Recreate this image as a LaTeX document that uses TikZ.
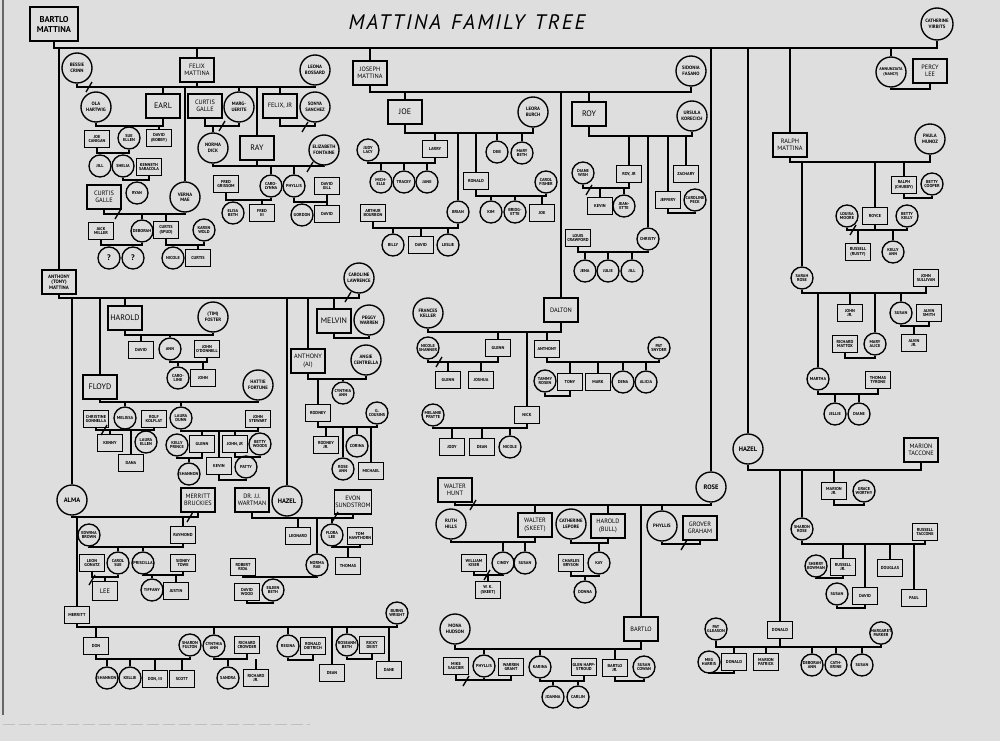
\documentclass[tikz,border=0pt]{standalone}
\usepackage{fontspec}
\setmainfont{PT Sans}
\definecolor{bgc}{RGB}{222,222,222}
\tikzset{
 ln/.style={line width=1.35pt, black},
 pb/.style={draw, line width=1.35pt, rectangle, minimum width=25pt, minimum height=17pt, inner sep=0.6pt, align=center, font=\bfseries\fontsize{4.3}{4.8}\selectfont},
 pbm/.style={pb, minimum width=34pt, minimum height=24pt, font=\fontsize{6.3}{7.2}\selectfont},
 pbig/.style={pbm, font=\fontsize{8}{8}\selectfont},
 pc/.style={draw, line width=1.35pt, circle, minimum size=22pt, inner sep=0pt, align=center, font=\bfseries\fontsize{4.3}{4.8}\selectfont},
 pcl/.style={pc, minimum size=30pt, font=\bfseries\fontsize{4.8}{5.4}\selectfont},
}
\newcommand\fbx[4]{\node[pb] (#1) at (#2,#3) {#4};}
\newcommand\fmx[4]{\node[pbm] (#1) at (#2,#3) {#4};}
\newcommand\fgx[4]{\node[pbig] (#1) at (#2,#3) {#4};}
\newcommand\fcs[4]{\node[pc] (#1) at (#2,#3) {#4};}
\newcommand\fcl[4]{\node[pcl] (#1) at (#2,#3) {#4};}
\newcommand\famrail[3]{\draw[ln] (#2.south) -- (#2.south |- 0,#1) -- (#3.south |- 0,#1) -- (#3.south);}
\newcommand\kidline[2]{\draw[ln] (#2.north) -- (#2.north |- 0,#1);}
\newcommand\downline[2]{\draw[ln] (#2.south) -- (#2.south |- 0,#1);}
\newcommand\divmark[2]{\draw[ln] (#1-3,#2+5) -- (#1+3,#2-5);}
\begin{document}
\begin{tikzpicture}[x=1pt,y=-1pt]
\useasboundingbox (0,0) rectangle (1000,741);
\fill[bgc] (0,0) rectangle (1000,741);
\draw[line width=1.2pt, black!60] (3,0) -- (3,715);
\draw[line width=0.8pt, black!25, dash pattern=on 12pt off 4pt] (3,724) -- (310,724);

\node[font=\fontsize{21}{21}\selectfont\itshape\addfontfeature{LetterSpace=10}] (title) at (467,22) {MATTINA\hspace{10pt}FAMILY\hspace{10pt}TREE};

% ---------- top generation
\node[pb, minimum width=48pt, minimum height=34pt, font=\bfseries\fontsize{8.5}{10}\selectfont] (bartlo) at (54,24) {BARTLO\\MATTINA};
\node[pc, minimum size=32pt, font=\bfseries\fontsize{4.8}{5.6}\selectfont] (cath) at (937,24) {CATHERINE\\VIRBITS};
\famrail{48}{bartlo}{cath}

% ---------- Felix
\fmx{felix}{197}{70}{FELIX\\MATTINA}
\kidline{48}{felix}
\fcl{bessie}{77}{68}{BESSIE\\CRINN}
\fcl{leona}{315}{70}{LEONA\\BOSSARD}
\famrail{87}{bessie}{leona}
\downline{87}{felix}
\divmark{89}{87}

\fcl{ola}{96}{107}{OLA\\HARTWIG}
\fgx{earl}{163}{106}{EARL}
\kidline{87}{earl}
\famrail{126}{ola}{earl}
\fbx{joec}{97}{139}{JOE\\CANIGAN}
\fcs{sue}{129}{138}{SUE\\ELLEN}
\fbx{davidb}{159}{138}{DAVID\\(BOBBY)}
\kidline{126}{sue}
\kidline{126}{davidb}
\famrail{153}{joec}{sue}
\fcs{jill}{100}{166}{JILL}
\fcs{shelia}{123}{166}{SHELIA}
\kidline{153}{jill}
\kidline{153}{shelia}
\fbx{kenneth}{149}{167}{KENNETH\\SARACOLA}
\famrail{180}{shelia}{kenneth}
\fcs{ryan}{137}{193}{RYAN}
\kidline{180}{ryan}

\fcl{vernamae}{185}{197}{VERNA\\MAE}
\kidline{87}{vernamae}
\fmx{curtisga}{104}{197}{CURTIS\\GALLE}
\famrail{214}{curtisga}{vernamae}
\divmark{118}{214}
\fbx{jack}{101}{231}{JACK\\MILLER}
\fcs{deborah}{142}{231}{DEBORAH}
\fbx{spud}{166}{230}{CURTIS\\(SPUD)}
\fcs{karen}{204}{230}{KAREN\\WOLD}
\kidline{214}{deborah}
\kidline{214}{spud}
\famrail{245}{jack}{deborah}
\fcs{qa}{109}{258}{\fontsize{8}{8}\selectfont ?}
\fcs{qb}{133}{258}{\fontsize{8}{8}\selectfont ?}
\kidline{245}{qa}
\kidline{245}{qb}
\famrail{245}{spud}{karen}
\fcs{nicole}{173}{258}{NICOLE}
\fbx{curtisb}{198}{258}{CURTIS}
\kidline{245}{nicole}
\kidline{245}{curtisb}

\fmx{curtisgb}{205}{106}{CURTIS\\GALLE}
\fcl{marg}{239}{107}{MARG-\\UERITE}
\kidline{87}{marg}
\famrail{126}{curtisgb}{marg}
\divmark{222}{126}
\fcl{norma}{213}{148}{NORMA\\DICK}
\kidline{126}{norma}
\fgx{ray}{257}{148}{RAY}
\kidline{87}{ray}
\fcl{eliz}{324}{150}{ELIZABETH\\FONTAINE}
\famrail{166}{norma}{eliz}
\downline{166}{ray}
\divmark{310}{167}
\fbx{fredg}{226}{184}{FRED\\GRISSOM}
\fcs{carol}{271}{186}{CARO-\\LYNNA}
\fcs{phyllisa}{294}{186}{PHYLLIS}
\fbx{davidgill}{327}{186}{DAVID\\GILL}
\kidline{166}{carol}
\kidline{166}{phyllisa}
\famrail{200}{fredg}{carol}
\fcs{elisa}{233}{213}{ELISA\\BETH}
\fbx{fredc}{262}{213}{FRED\\III}
\kidline{200}{elisa}
\kidline{200}{fredc}
\famrail{202}{phyllisa}{davidgill}
\fcs{gordon}{302}{215}{GORDON}
\fbx{davidc}{327}{214}{DAVID}
\kidline{202}{gordon}
\kidline{202}{davidc}

\fmx{felixjr}{280}{106}{FELIX, JR}
\kidline{87}{felixjr}
\fcl{sonya}{315}{107}{SONYA\\SANCHEZ}
\famrail{126}{felixjr}{sonya}
\divmark{305}{127}

% ---------- Joseph
\fmx{joseph}{370}{73}{JOSEPH\\MATTINA}
\kidline{48}{joseph}
\fcl{sidonia}{691}{71}{SIDONIA\\FASANO}
\famrail{92}{joseph}{sidonia}
\fgx{joe}{405}{112}{JOE}
\kidline{92}{joe}
\fcl{leora}{533}{112}{LEORA\\BURCH}
\famrail{133}{joe}{leora}
\fbx{larry}{435}{149}{LARRY}
\kidline{133}{larry}
\fcs{judy}{368}{150}{JUDY\\LACY}
\famrail{163}{judy}{larry}
\fcs{michelle}{381}{182}{MICH-\\ELLE}
\fcs{tracey}{404}{182}{TRACEY}
\fcs{jane}{427}{182}{JANE}
\kidline{163}{michelle}
\kidline{163}{tracey}
\kidline{163}{jane}
\fcs{brian}{458}{212}{BRIAN}
\kidline{133}{brian}
\fbx{arthur}{373}{213}{ARTHUR\\BOURBON}
\famrail{228}{arthur}{brian}
\fcs{billy}{393}{245}{BILLY}
\fbx{davidj}{421}{245}{DAVID}
\fcs{leslie}{448}{245}{LESLIE}
\kidline{228}{billy}
\kidline{228}{davidj}
\kidline{228}{leslie}
\fbx{ronald}{476}{181}{RONALD}
\kidline{133}{ronald}
\fcs{carolf}{546}{182}{CAROL\\FISHER}
\famrail{196}{ronald}{carolf}
\fcs{kim}{491}{212}{KIM}
\fcs{bridg}{515}{212}{BRIDG-\\ETTE}
\fbx{joej}{542}{213}{JOE}
\kidline{196}{kim}
\kidline{196}{bridg}
\kidline{196}{joej}
\fcs{deb}{497}{152}{DEB}
\kidline{133}{deb}
\fcs{marybeth}{522}{153}{MARY\\BETH}
\kidline{133}{marybeth}

\fgx{roy}{589}{114}{ROY}
\kidline{92}{roy}
\fcl{ursula}{692}{116}{URSULA\\KORECICH}
\famrail{136}{roy}{ursula}
\fbx{royjr}{629}{174}{ROY, JR}
\kidline{136}{royjr}
\fcs{diane}{583}{173}{DIANE\\WISH}
\famrail{188}{diane}{royjr}
\divmark{589}{190}
\fbx{kevina}{600}{206}{KEVIN}
\fcs{jeanette}{624}{206}{JEAN-\\ETTE}
\kidline{188}{kevina}
\kidline{188}{jeanette}
\fcs{christy}{648}{239}{CHRISTY}
\kidline{136}{christy}
\fbx{jeffery}{668}{200}{JEFFERY}
\kidline{136}{jeffery}
\fcs{carolinep}{695}{200}{CAROLINE\\PECK}
\famrail{213}{jeffery}{carolinep}
\fbx{zachary}{686}{174}{ZACHARY}
\kidline{136}{zachary}
\fbx{louis}{578}{238}{LOUIS\\CRAWFORD}
\famrail{252}{louis}{christy}
\fcs{jena}{585}{271}{JENA}
\fcs{julie}{608}{271}{JULIE}
\fcs{jillb}{632}{271}{JILL}
\kidline{252}{jena}
\kidline{252}{julie}
\kidline{252}{jillb}

\fmx{dalton}{561}{310}{DALTON}
\kidline{92}{dalton}
\fcl{frances}{428}{313}{FRANCES\\KELLER}
\famrail{332}{frances}{dalton}
\fbx{glenna}{498}{348}{GLENN}
\kidline{332}{glenna}
\fcs{nicoles}{428}{348}{NICOLE\\SHANNER}
\famrail{362}{nicoles}{glenna}
\divmark{439}{362}
\fbx{glennb}{448}{380}{GLENN}
\fbx{joshua}{481}{380}{JOSHUA}
\kidline{362}{glennb}
\kidline{362}{joshua}
\fbx{anthonyb}{547}{349}{ANTHONY}
\kidline{332}{anthonyb}
\fcs{pats}{659}{348}{PAT\\SNYDER}
\famrail{362}{anthonyb}{pats}
\fbx{tony}{570}{382}{TONY}
\fbx{mark}{598}{382}{MARK}
\fcs{dena}{623}{382}{DENA}
\fcs{alicia}{646}{382}{ALICIA}
\kidline{362}{tony}
\kidline{362}{mark}
\kidline{362}{dena}
\kidline{362}{alicia}
\fcs{tammy}{545}{381}{TAMMY\\ROSEN}
\famrail{396}{tammy}{tony}
\fbx{nick}{527}{415}{NICK}
\kidline{332}{nick}
\fcs{melanie}{433}{415}{MELANIE\\PRATTE}
\famrail{428}{melanie}{nick}
\fbx{jody}{452}{447}{JODY}
\fbx{deana}{482}{447}{DEAN}
\fcs{nicolec}{510}{447}{NICOLE}
\kidline{428}{jody}
\kidline{428}{deana}
\kidline{428}{nicolec}

% ---------- Ralph
\fmx{ralph}{790}{145}{RALPH\\MATTINA}
\kidline{48}{ralph}
\fcl{paula}{930}{139}{PAULA\\MUNOZ}
\famrail{162}{ralph}{paula}
\node[pcl, font=\bfseries\fontsize{4.1}{4.8}\selectfont] (nancy) at (891,72) {ANNUNZIATA\\(NANCY)};
\kidline{48}{nancy}
\fmx{percy}{930}{71}{PERCY\\LEE}
\famrail{89}{nancy}{percy}
\fbx{chubby}{904}{185}{RALPH\\(CHUBBY)}
\kidline{162}{chubby}
\fcs{bettyc}{932}{184}{BETTY\\COOPER}
\famrail{198}{chubby}{bettyc}
\fbx{royce}{875}{216}{ROYCE}
\kidline{162}{royce}
\fcs{louisa}{847}{216}{LOUISA\\MOORE}
\fcs{bettyk}{907}{216}{BETTY\\KELLY}
\famrail{230}{louisa}{bettyk}
\downline{230}{royce}
\divmark{853}{230}
\fbx{russella}{858}{252}{RUSSELL\\(RUSTY)}
\fcs{kellyann}{893}{252}{KELLY\\ANN}
\kidline{230}{russella}
\kidline{230}{kellyann}
\fcs{sarah}{802}{278}{SARAH\\ROSE}
\kidline{162}{sarah}
\fbx{johns}{926}{278}{JOHN\\SULLIVAN}
\famrail{293}{sarah}{johns}
\fbx{johnjr}{850}{313}{JOHN\\JR.}
\kidline{293}{johnjr}
\fcs{maryalice}{875}{344}{MARY\\ALICE}
\kidline{293}{maryalice}
\fbx{richardm}{845}{344}{RICHARD\\MATTOX}
\famrail{358}{richardm}{maryalice}
\fcs{susana}{901}{313}{SUSAN}
\kidline{293}{susana}
\fbx{alvin}{929}{313}{ALVIN\\SMITH}
\famrail{326}{susana}{alvin}
\fbx{alvinjr}{914}{343}{ALVIN\\JR.}
\kidline{326}{alvinjr}
\fcs{martha}{818}{379}{MARTHA}
\kidline{293}{martha}
\fbx{thomast}{878}{380}{THOMAS\\TYRONE}
\famrail{394}{martha}{thomast}
\fcs{jellie}{835}{414}{JELLIE}
\fcs{dianeb}{859}{414}{DIANE}
\kidline{394}{jellie}
\kidline{394}{dianeb}

% ---------- Hazel (right)
\fcl{hazela}{748}{449}{\fontsize{6.5}{6.5}\selectfont HAZEL}
\kidline{48}{hazela}
\fmx{marion}{921}{450}{MARION\\TACCONE}
\famrail{470}{hazela}{marion}
\fbx{donalda}{780}{630}{DONALD}
\kidline{470}{donalda}
\fcs{sharonr}{802}{529}{SHARON\\ROSE}
\kidline{470}{sharonr}
\fbx{russellt}{925}{532}{RUSSELL\\TACCONE}
\famrail{544}{sharonr}{russellt}
\fbx{russelljr}{843}{567}{RUSSELL\\JR.}
\kidline{544}{russelljr}
\fcs{sherry}{816}{566}{SHERRY\\BOWMAN}
\famrail{578}{sherry}{russelljr}
\fbx{davidd}{865}{596}{DAVID}
\kidline{544}{davidd}
\fcs{susanb}{837}{594}{SUSAN}
\famrail{608}{susanb}{davidd}
\fbx{douglas}{890}{568}{DOUGLAS}
\kidline{544}{douglas}
\fbx{paul}{914}{598}{PAUL}
\kidline{544}{paul}
\fbx{marionjr}{834}{491}{MARION\\JR.}
\kidline{470}{marionjr}
\fcs{grace}{864}{491}{GRACE\\WORTHY}
\famrail{505}{marionjr}{grace}
\fcs{patg}{716}{629}{PAT\\GLEASON}
\fcs{margp}{881}{633}{MARGARET\\PARKER}
\famrail{647}{patg}{margp}
\downline{647}{donalda}
\fbx{donaldb}{734}{662}{DONALD}
\kidline{647}{donaldb}
\fcs{meg}{709}{662}{MEG\\HARRIS}
\famrail{673}{meg}{donaldb}
\fbx{marionp}{766}{662}{MARION\\PATRICK}
\kidline{647}{marionp}
\fcs{debann}{812}{665}{DEBORAH\\ANN}
\kidline{647}{debann}
\fcs{cathe}{836}{665}{CATH-\\ERINE}
\kidline{647}{cathe}
\fcs{susanc}{862}{665}{SUSAN}
\kidline{647}{susanc}

% ---------- Rose
\fcl{rose}{711}{487}{\fontsize{6.5}{6.5}\selectfont ROSE}
\kidline{48}{rose}
\fmx{walterh}{455}{490}{WALTER\\HUNT}
\famrail{505}{walterh}{rose}
\divmark{473}{505}
\fcl{ruth}{451}{524}{RUTH\\HILLS}
\fmx{walters}{535}{525}{WALTER\\(SKEET)}
\kidline{505}{walters}
\famrail{542}{ruth}{walters}
\fbx{william}{474}{563}{WILLIAM\\KISER}
\fcs{cindy}{503}{563}{CINDY}
\fcs{susand}{525}{563}{SUSAN}
\kidline{542}{cindy}
\kidline{542}{susand}
\famrail{575}{william}{cindy}
\divmark{487}{575}
\fbx{wk}{488}{590}{W. K.\\(SKEET)}
\kidline{575}{wk}
\fcl{catherinel}{571}{524}{CATHERINE\\LEPORE}
\fmx{haroldb}{608}{526}{HAROLD\\(BULL)}
\kidline{505}{haroldb}
\famrail{543}{catherinel}{haroldb}
\fcs{kay}{599}{563}{KAY}
\kidline{543}{kay}
\fbx{charles}{571}{563}{CHARLES\\BRYSON}
\famrail{576}{charles}{kay}
\fcs{donna}{585}{592}{DONNA}
\kidline{576}{donna}
\fcl{phyllisb}{662}{526}{PHYLLIS}
\kidline{505}{phyllisb}
\fmx{grover}{700}{528}{GROVER\\GRAHAM}
\famrail{544}{phyllisb}{grover}
\divmark{684}{545}
\fmx{bartlob}{641}{629}{BARTLO}
\kidline{505}{bartlob}
\fcl{mona}{455}{629}{MONA\\HUDSON}
\famrail{649}{mona}{bartlob}
\fcs{phyllisc}{484}{666}{PHYLLIS}
\kidline{649}{phyllisc}
\fbx{mike}{456}{666}{MIKE\\SAUCIER}
\fbx{warren}{511}{667}{WARREN\\GRANT}
\famrail{680}{mike}{warren}
\downline{680}{phyllisc}
\divmark{466}{681}
\fcs{karina}{540}{667}{KARINA}
\kidline{649}{karina}
\fbx{glenh}{584}{667}{GLEN HAPP-\\STROUD}
\famrail{681}{karina}{glenh}
\fcs{joanna}{553}{697}{JOANNA}
\fcs{carlin}{578}{697}{CARLIN}
\kidline{681}{joanna}
\kidline{681}{carlin}
\fbx{bartlojr}{615}{668}{BARTLO\\JR.}
\kidline{649}{bartlojr}
\fcs{susancow}{644}{667}{SUSAN\\COWAN}
\famrail{681}{bartlojr}{susancow}

% ---------- Anthony (Tony)
\node[pbm, font=\bfseries\fontsize{4.9}{5.5}\selectfont] (tonym) at (59,282) {ANTHONY\\(TONY)\\MATTINA};
\kidline{48}{tonym}
\fcl{caroline}{359}{278}{CAROLINE\\LAWRENCE}
\famrail{298}{tonym}{caroline}
\divmark{348}{297}
\fgx{harold}{125}{318}{HAROLD}
\kidline{298}{harold}
\fcl{tim}{213}{317}{(TIM)\\FOSTER}
\famrail{335}{harold}{tim}
\fbx{davide}{141}{350}{DAVID}
\kidline{335}{davide}
\fcs{ann}{170}{349}{ANN}
\kidline{335}{ann}
\fbx{johno}{207}{349}{JOHN\\O'DONNELL}
\famrail{362}{ann}{johno}
\fcs{carolinec}{178}{378}{CARO-\\LINE}
\fbx{johnb}{203}{378}{JOHN}
\kidline{362}{carolinec}
\kidline{362}{johnb}
\fgx{floyd}{100}{387}{FLOYD}
\kidline{298}{floyd}
\fcl{hattie}{258}{385}{HATTIE\\FORTUNE}
\famrail{402}{floyd}{hattie}
\fcs{melissa}{125}{418}{MELISSA}
\kidline{402}{melissa}
\fbx{christine}{96}{419}{CHRISTINE\\GONNELLA}
\fbx{rolf}{154}{419}{ROLF\\KOLFLAT}
\famrail{430}{christine}{rolf}
\downline{430}{melissa}
\divmark{104}{430}
\fbx{kenny}{110}{443}{KENNY}
\fcs{laurae}{146}{442}{LAURA\\ELLEN}
\fbx{dana}{131}{463}{DANA}
\kidline{430}{kenny}
\kidline{430}{laurae}
\kidline{430}{dana}
\fcs{laurad}{181}{418}{LAURA\\DUNN}
\kidline{402}{laurad}
\fbx{johnst}{258}{419}{JOHN\\STEWART}
\famrail{431}{laurad}{johnst}
\fbx{glennc}{202}{444}{GLENN}
\kidline{431}{glennc}
\fcs{kelly}{177}{445}{KELLY\\PRINCE}
\famrail{458}{kelly}{glennc}
\fcs{shannon}{189}{474}{SHANNON}
\kidline{458}{shannon}
\fbx{kevinb}{219}{466}{KEVIN}
\kidline{431}{kevinb}
\fbx{johnjrb}{235}{444}{JOHN, JR}
\kidline{431}{johnjrb}
\fcs{bettyw}{260}{444}{BETTY\\WOODS}
\famrail{457}{johnjrb}{bettyw}
\fcs{patty}{246}{467}{PATTY}
\famrail{480}{kevinb}{patty}

\fgx{melvin}{334}{321}{MELVIN}
\kidline{298}{melvin}
\fcl{peggy}{369}{320}{PEGGY\\WARREN}
\famrail{338}{melvin}{peggy}
\fmx{aj}{308}{361}{ANTHONY\\(AJ)}
\kidline{298}{aj}
\fcl{angie}{366}{360}{ANGIE\\CENTRELLA}
\famrail{379}{aj}{angie}
\fbx{rodney}{318}{413}{RODNEY}
\kidline{379}{rodney}
\fcs{cynthia}{343}{393}{CYNTHIA\\ANN}
\kidline{379}{cynthia}
\fcs{gcous}{377}{413}{G.\\COUSINS}
\famrail{427}{rodney}{gcous}
\fbx{rodneyjr}{326}{445}{RODNEY\\JR.}
\fcs{roseann}{343}{469}{ROSE\\ANN}
\fcs{corina}{357}{446}{CORINA}
\fbx{michael}{371}{471}{MICHAEL}
\kidline{427}{rodneyjr}
\kidline{427}{roseann}
\kidline{427}{corina}
\kidline{427}{michael}

\fcl{hazelb}{287}{501}{\fontsize{6.5}{6.5}\selectfont HAZEL}
\kidline{298}{hazelb}
\fmx{wartman}{252}{500}{DR. J.J.\\WARTMAN}
\fmx{evon}{353}{502}{EVON\\SUNDSTROM}
\famrail{518}{wartman}{evon}
\downline{518}{hazelb}
\divmark{335}{517}
\fbx{leonard}{298}{536}{LEONARD}
\kidline{518}{leonard}
\fcs{normarae}{317}{565}{NORMA\\RAE}
\kidline{518}{normarae}
\fcs{floralee}{332}{535}{FLORA\\LEE}
\kidline{518}{floralee}
\fbx{tomh}{360}{536}{TOM\\HAWTHORN}
\famrail{547}{floralee}{tomh}
\fbx{thomasb}{348}{566}{THOMAS}
\kidline{547}{thomasb}
\fbx{robert}{243}{567}{ROBERT\\RIDA}
\famrail{577}{robert}{normarae}
\fcs{eileen}{273}{590}{EILEEN\\BETH}
\kidline{577}{eileen}
\fbx{davidw}{247}{592}{DAVID\\WOOD}
\famrail{603}{davidw}{eileen}

% ---------- Alma
\fcl{alma}{72}{500}{\fontsize{6.5}{6.5}\selectfont ALMA}
\kidline{298}{alma}
\fmx{merrittb}{198}{500}{MERRITT\\BRUCKIES}
\famrail{517}{alma}{merrittb}
\divmark{190}{517}
\fbx{raymond}{183}{535}{RAYMOND}
\kidline{517}{raymond}
\fcs{edwina}{89}{535}{EDWINA\\BROWN}
\famrail{547}{edwina}{raymond}
\fcs{carolsue}{118}{563}{CAROL\\SUE}
\kidline{547}{carolsue}
\fbx{leon}{92}{563}{LEON\\GONATZ}
\famrail{577}{leon}{carolsue}
\divmark{92}{580}
\node[pb, minimum height=19pt, font=\fontsize{6.5}{6.5}\selectfont] (lee) at (105,591) {LEE};
\kidline{577}{lee}
\fcs{priscilla}{143}{563}{PRISCILLA}
\kidline{547}{priscilla}
\fbx{sidney}{183}{563}{SIDNEY\\TOWE}
\famrail{575}{priscilla}{sidney}
\fcs{tiffany}{152}{590}{TIFFANY}
\fbx{justin}{176}{591}{JUSTIN}
\kidline{575}{tiffany}
\kidline{575}{justin}
\fbx{merritt}{77}{615}{MERRITT}
\kidline{517}{merritt}
\fcs{burns}{397}{613}{BURNS\\WRIGHT}
\famrail{627}{merritt}{burns}
\fbx{don}{96}{646}{DON}
\kidline{627}{don}
\fcs{sharonf}{190}{645}{SHARON\\FULTON}
\famrail{659}{don}{sharonf}
\fcs{shannonb}{107}{678}{SHANNON}
\fcs{kellie}{130}{678}{KELLIE}
\fbx{donc}{155}{679}{DON, III}
\fbx{scott}{182}{679}{SCOTT}
\kidline{659}{shannonb}
\kidline{659}{kellie}
\kidline{659}{donc}
\kidline{659}{scott}
\fcs{cynann}{214}{646}{CYNTHIA\\ANN}
\kidline{627}{cynann}
\fbx{richardc}{247}{645}{RICHARD\\CROWDER}
\famrail{659}{cynann}{richardc}
\fcs{sandra}{228}{678}{SANDRA}
\fbx{richardjr}{256}{678}{RICHARD\\JR.}
\kidline{659}{sandra}
\kidline{659}{richardjr}
\fcs{regina}{288}{646}{REGINA}
\kidline{627}{regina}
\fbx{ronaldd}{313}{646}{RONALD\\DIETRICH}
\famrail{660}{regina}{ronaldd}
\fbx{deanb}{332}{673}{DEAN}
\kidline{627}{deanb}
\fcs{roseb}{347}{645}{ROSEANN\\BETH}
\kidline{627}{roseb}
\fbx{ricky}{372}{645}{RICKY\\DEIST}
\famrail{659}{roseb}{ricky}
\fbx{dane}{389}{670}{DANE}
\kidline{627}{dane}
\end{tikzpicture}
\end{document}
